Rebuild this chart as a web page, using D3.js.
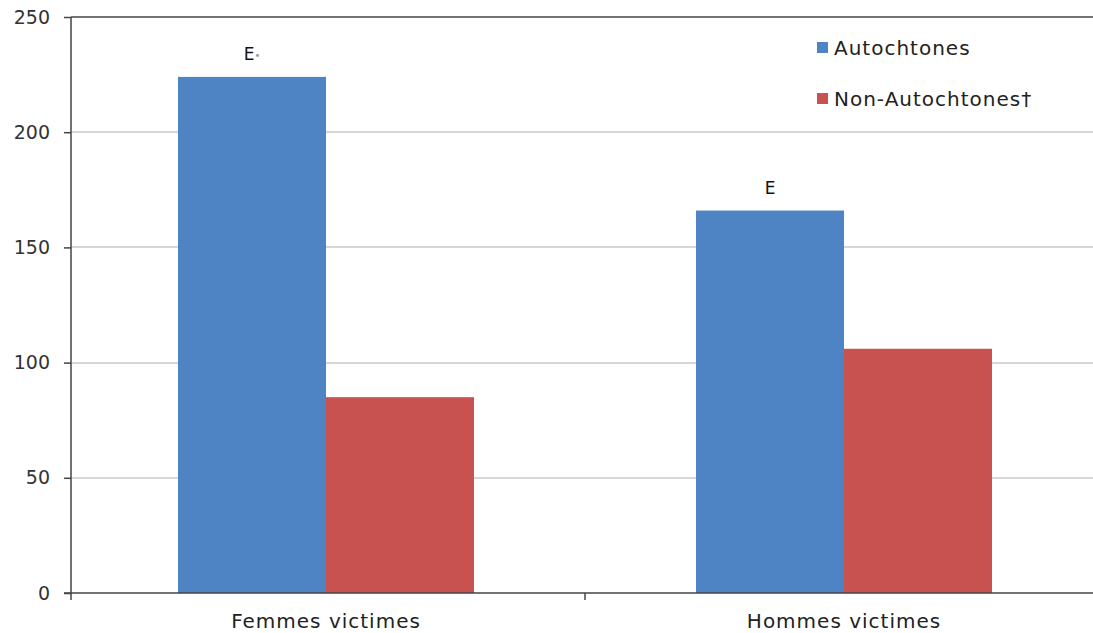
<!DOCTYPE html>
<html><head><meta charset="utf-8">
<script src="https://cdn.jsdelivr.net/npm/d3@7"></script>
<style>
html,body{margin:0;padding:0;background:#fff;}
svg{display:block;font-family:"DejaVu Sans",Verdana,sans-serif;}
</style></head>
<body>
<svg id="c" width="1093" height="633"></svg>
<script>
const categories = ["Femmes victimes", "Hommes victimes"];
const seriesNames = ["Autochtones", "Non-Autochtones†"];
const autochtones = [224, 166];
const nonAutochtones = [85, 106];
const qualityFlags = ["E", "E"];
const yTicks = [0, 50, 100, 150, 200, 250];
const colors = ["#4F84C4", "#C8524F"];

const svg = d3.select("#c");
const m = {left: 71, top: 17, right: 1093, bottom: 593};

const x = d3.scaleBand().domain(categories).range([67, 1103]).paddingInner(0).paddingOuter(0);
const y = d3.scaleLinear().domain([0, 250]).range([m.bottom, m.top]);
const groupW = x.bandwidth() / 1.75;
const x1 = d3.scaleBand().domain(seriesNames).range([0, groupW]).padding(0);
const gx = c => x(c) + (x.bandwidth() - groupW) / 2;

// gridlines
svg.append("g").selectAll("line").data(yTicks.filter(d => d > 0 && d < 250)).join("line")
  .attr("x1", m.left).attr("x2", m.right)
  .attr("y1", d => Math.round(y(d))).attr("y2", d => Math.round(y(d)))
  .attr("stroke", "#c8c8c8").attr("stroke-width", 1.5);

// top border
svg.append("line").attr("x1", m.left).attr("x2", m.right).attr("y1", y(250)).attr("y2", y(250))
  .attr("stroke", "#444").attr("stroke-width", 1.5);

const data = categories.map((c, i) => ({cat: c, vals: [autochtones[i], nonAutochtones[i]]}));

const g = svg.append("g").selectAll("g").data(data).join("g")
  .attr("transform", d => `translate(${gx(d.cat)},0)`);
g.selectAll("rect").data(d => d.vals.map((v, j) => ({v, s: seriesNames[j], j}))).join("rect")
  .attr("x", d => x1(d.s)).attr("width", x1.bandwidth())
  .attr("y", d => y(d.v)).attr("height", d => y(0) - y(d.v))
  .attr("fill", d => colors[d.j]);

// E labels
const lab = svg.append("g").selectAll("text").data(data).join("text")
  .attr("x", d => gx(d.cat) + x1(seriesNames[0]) + x1.bandwidth() / 2)
  .attr("y", d => y(d.vals[0]) - 17)
  .attr("text-anchor", "middle").attr("font-size", 17).attr("fill", "#111");
lab.append("tspan").text((d, i) => qualityFlags[i]);
lab.filter((d, i) => i === 0).append("tspan").attr("font-size", 10).attr("fill", "#999").attr("dy", -1).text("•");

// y axis
const ya = svg.append("g").attr("transform", `translate(${m.left},0)`)
  .call(d3.axisLeft(y).tickValues(yTicks).tickSize(7).tickPadding(14));
ya.select(".domain").attr("stroke", "#444").attr("stroke-width", 1.5).attr("d", `M0,${m.top}V${m.bottom}`);
ya.selectAll(".tick line").attr("stroke", "#444").attr("stroke-width", 1.5);
ya.selectAll(".tick text").attr("font-size", 19).attr("fill", "#333").attr("font-family", "DejaVu Sans");

// x axis
const xa = svg.append("g").attr("transform", `translate(0,${m.bottom})`)
  .call(d3.axisBottom(x).tickSize(0).tickPadding(0));
xa.select(".domain").remove();
xa.selectAll(".tick text").attr("dy", null).attr("y", 35)
  .attr("font-size", 20).attr("letter-spacing", 1).attr("fill", "#222").attr("font-family", "DejaVu Sans");
svg.append("line").attr("x1", m.left - 7).attr("x2", m.right).attr("y1", m.bottom).attr("y2", m.bottom)
  .attr("stroke", "#444").attr("stroke-width", 1.5);
svg.append("g").selectAll("line").data(categories).join("line")
  .attr("x1", (d, i) => i === 0 ? m.left : x(d)).attr("x2", (d, i) => i === 0 ? m.left : x(d))
  .attr("y1", m.bottom).attr("y2", m.bottom + 7)
  .attr("stroke", "#444").attr("stroke-width", 1.5);

// legend
const leg = svg.append("g").attr("transform", "translate(817,42)");
const li = leg.selectAll("g").data(seriesNames).join("g").attr("transform", (d, i) => `translate(0,${i * 51})`);
li.append("rect").attr("width", 11).attr("height", 11).attr("fill", (d, i) => colors[i]);
li.append("text").attr("x", 17).attr("y", 13).attr("font-size", 20).attr("letter-spacing", 1)
  .attr("fill", "#222").text(d => d);
</script>
</body></html>
